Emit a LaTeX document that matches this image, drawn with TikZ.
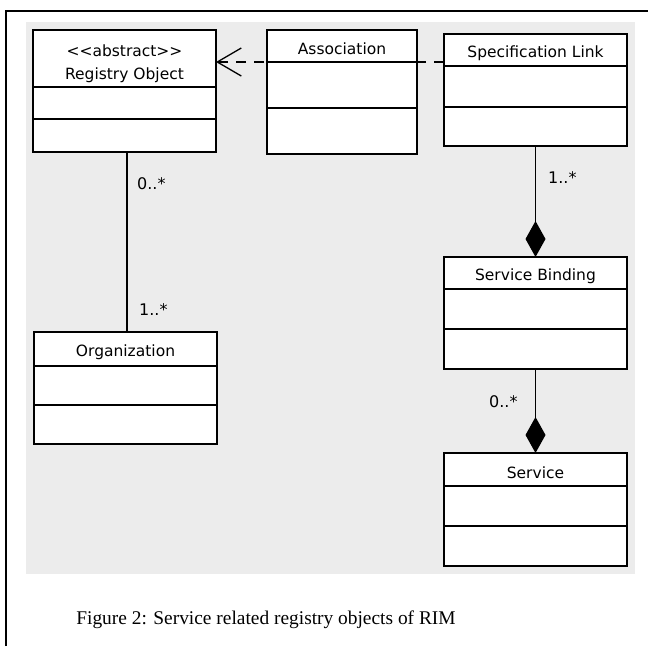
\documentclass[tikz,border=0pt]{standalone}
\usepackage{fontspec}
\setmainfont{Liberation Serif}
\newfontfamily\umlfont{DejaVu Sans}
\usetikzlibrary{arrows.meta}
\definecolor{bggray}{RGB}{236,236,236}
\tikzset{
  cls/.style={draw=black, fill=white, line width=1.6pt, inner sep=0pt, outer sep=0pt},
  divider/.style={line width=1.6pt},
  clsname/.style={font=\umlfont\fontsize{15.5}{17}\selectfont, inner sep=0pt},
  mult/.style={font=\umlfont\fontsize{16}{18}\selectfont, inner sep=0pt, anchor=west},
  assoc/.style={line width=1.3pt},
  compo/.style={line width=1.3pt, -{Diamond[length=36pt,width=20pt]}},
  depend/.style={line width=1.3pt, dash pattern=on 10pt off 8pt, -{Straight Barb[length=24pt,width=28pt,line width=1.3pt]}},
  frameline/.style={line width=2pt}
}
\begin{document}
\begin{tikzpicture}[x=1pt,y=-1pt]
\useasboundingbox (0,0) rectangle (648,646);
% frame
\coordinate (ftl) at (6,11);
\coordinate (ftr) at (648,11);
\coordinate (fbl) at (6,646);
\draw[frameline] (fbl) -- (ftl) -- (ftr);
% grey background
\fill[bggray] (26,22) rectangle (635,574);
% helper coordinates
\coordinate (dy) at (0,62);
\coordinate (cx) at (127,0);
% dashed dependency (drawn first, boxes cover it)
\node[cls, minimum width=183pt, minimum height=122pt] (ro) at (124.5,91) {};
\node[cls, minimum width=183pt, minimum height=112pt] (sl) at (535.5,90) {};
\draw[depend] (sl.west |- dy) -- (ro.east |- dy);
\node[cls, minimum width=150pt, minimum height=124pt] (as) at (342,92) {};
\node[cls, minimum width=183pt, minimum height=112pt] (org) at (125.5,388) {};
\node[cls, minimum width=183pt, minimum height=112pt] (sb) at (535.5,313) {};
\node[cls, minimum width=183pt, minimum height=113pt] (sv) at (535.5,509.5) {};
% dividers
\coordinate (ro1) at (0,87);  \coordinate (ro2) at (0,119);
\coordinate (as1) at (0,62);  \coordinate (as2) at (0,108);
\coordinate (sl1) at (0,66);  \coordinate (sl2) at (0,107);
\coordinate (or1) at (0,366); \coordinate (or2) at (0,405);
\coordinate (sb1) at (0,289); \coordinate (sb2) at (0,329);
\coordinate (sv1) at (0,486); \coordinate (sv2) at (0,526);
\draw[divider] (ro.west |- ro1) -- (ro.east |- ro1);
\draw[divider] (ro.west |- ro2) -- (ro.east |- ro2);
\draw[divider] (as.west |- as1) -- (as.east |- as1);
\draw[divider] (as.west |- as2) -- (as.east |- as2);
\draw[divider] (sl.west |- sl1) -- (sl.east |- sl1);
\draw[divider] (sl.west |- sl2) -- (sl.east |- sl2);
\draw[divider] (org.west |- or1) -- (org.east |- or1);
\draw[divider] (org.west |- or2) -- (org.east |- or2);
\draw[divider] (sb.west |- sb1) -- (sb.east |- sb1);
\draw[divider] (sb.west |- sb2) -- (sb.east |- sb2);
\draw[divider] (sv.west |- sv1) -- (sv.east |- sv1);
\draw[divider] (sv.west |- sv2) -- (sv.east |- sv2);
% class names
\node[clsname] (roS) at (124.5,51) {<<abstract>>};
\node[clsname] (roN) at (124.5,75) {Registry Object};
\node[clsname] (asN) at (342,49) {Association};
\node[clsname] (slN) at (535.5,53) {Specification Link};
\node[clsname] (orN) at (125.5,352) {Organization};
\node[clsname] (sbN) at (535.5,276) {Service Binding};
\node[clsname] (svN) at (535.5,473) {Service};
% connectors
\draw[assoc] (ro.south -| cx) -- (org.north -| cx);
\draw[compo] (sl.south) -- (sb.north);
\draw[compo] (sb.south) -- (sv.north);
% multiplicities
\node[mult] (m1) at (137,184) {0..*};
\node[mult] (m2) at (139,310) {1..*};
\node[mult] (m3) at (548,178) {1..*};
\node[mult] (m4) at (489,402) {0..*};
% caption
\node[font=\fontsize{19.4}{22}\selectfont, inner sep=0pt, anchor=base] (cap) at (266,624) {Figure 2: Service related registry objects of RIM};
\end{tikzpicture}
\end{document}
